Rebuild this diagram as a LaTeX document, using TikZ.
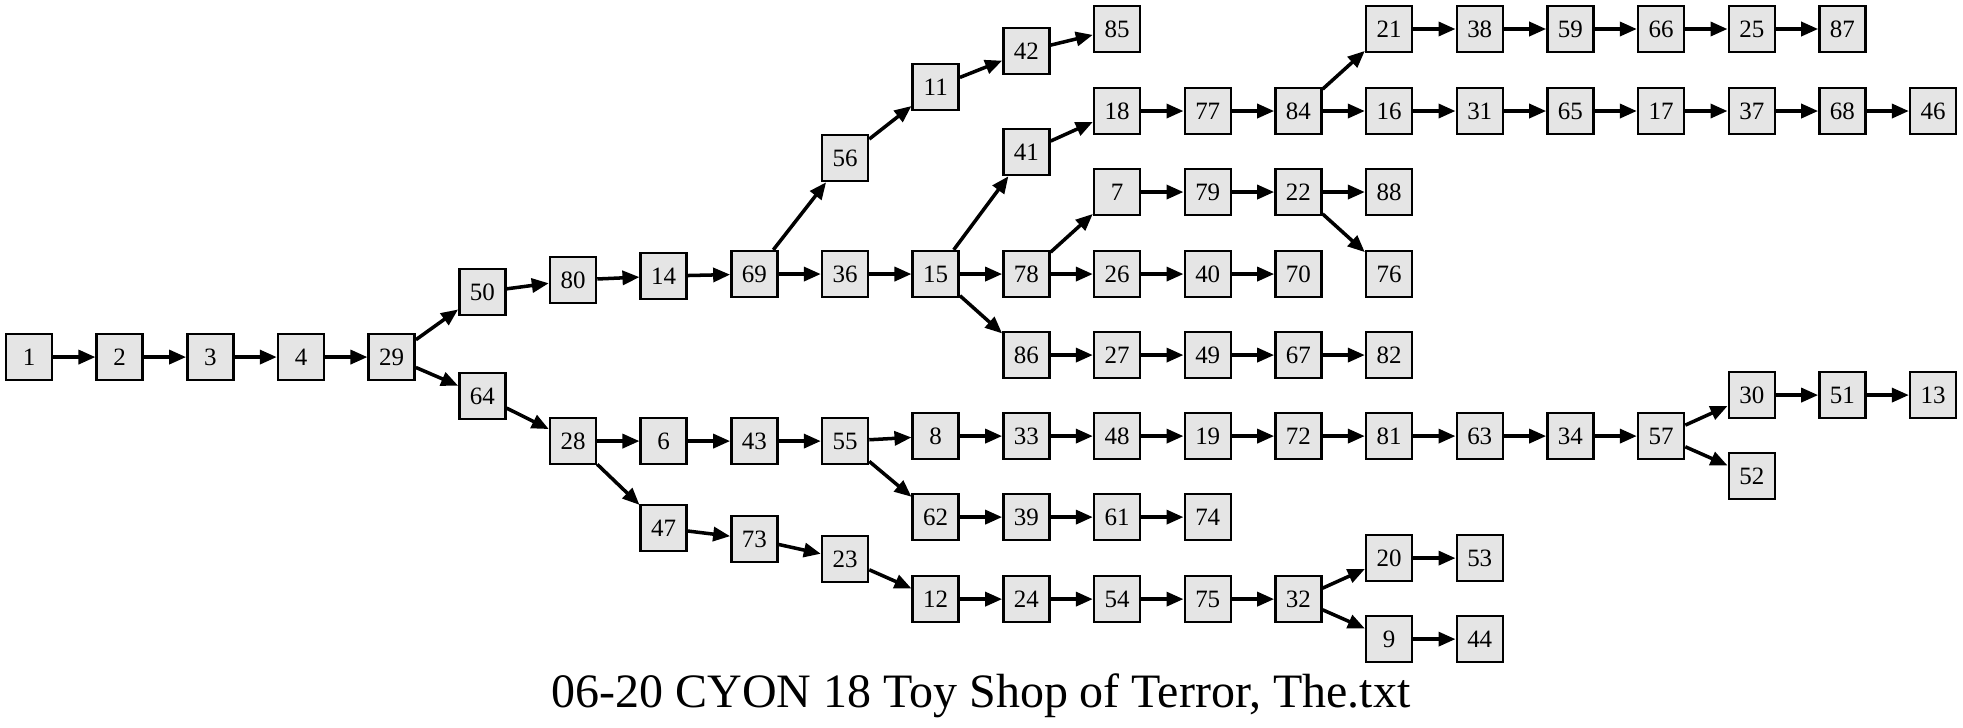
\documentclass[tikz,border=0pt]{standalone}
\usepackage{fontspec}
\setmainfont{Liberation Serif}
\usetikzlibrary{arrows.meta}

\tikzset{
  box/.style={draw, line width=1.4pt, fill=black!10, minimum width=0.92cm,
    minimum height=0.92cm, inner sep=0pt, font=\fontsize{14.2}{14}\selectfont},
  link/.style={line width=2pt, -{Triangle[length=0.34cm,width=0.28cm]}}
}

\begin{document}
\begin{tikzpicture}[x=1.8134cm, y=-0.02cm]
  \useasboundingbox (-0.32,0) rectangle (21.33,727);
  % trunk
  \node[box] (n1)  at (0,357) {1};
  \node[box] (n2)  at (1,357) {2};
  \node[box] (n3)  at (2,357) {3};
  \node[box] (n4)  at (3,357) {4};
  \node[box] (n29) at (4,357) {29};
  % upper half
  \node[box] (n50) at (5,292) {50};
  \node[box] (n80) at (6,280) {80};
  \node[box] (n14) at (7,276) {14};
  \node[box] (n69) at (8,274) {69};
  \node[box] (n56) at (9,158) {56};
  \node[box] (n36) at (9,274) {36};
  \node[box] (n11) at (10,87) {11};
  \node[box] (n15) at (10,274) {15};
  \node[box] (n42) at (11,51) {42};
  \node[box] (n41) at (11,152) {41};
  \node[box] (n78) at (11,274) {78};
  \node[box] (n86) at (11,355) {86};
  \node[box] (n85) at (12,29) {85};
  \node[box] (n18) at (12,111) {18};
  \node[box] (n7)  at (12,192) {7};
  \node[box] (n26) at (12,274) {26};
  \node[box] (n27) at (12,355) {27};
  \node[box] (n77) at (13,111) {77};
  \node[box] (n79) at (13,192) {79};
  \node[box] (n40) at (13,274) {40};
  \node[box] (n49) at (13,355) {49};
  \node[box] (n84) at (14,111) {84};
  \node[box] (n22) at (14,192) {22};
  \node[box] (n70) at (14,274) {70};
  \node[box] (n67) at (14,355) {67};
  \node[box] (n21) at (15,29) {21};
  \node[box] (n16) at (15,111) {16};
  \node[box] (n88) at (15,192) {88};
  \node[box] (n76) at (15,274) {76};
  \node[box] (n82) at (15,355) {82};
  \node[box] (n38) at (16,29) {38};
  \node[box] (n31) at (16,111) {31};
  \node[box] (n59) at (17,29) {59};
  \node[box] (n65) at (17,111) {65};
  \node[box] (n66) at (18,29) {66};
  \node[box] (n17) at (18,111) {17};
  \node[box] (n25) at (19,29) {25};
  \node[box] (n37) at (19,111) {37};
  \node[box] (n87) at (20,29) {87};
  \node[box] (n68) at (20,111) {68};
  \node[box] (n46) at (21,111) {46};
  % lower half
  \node[box] (n64) at (5,396) {64};
  \node[box] (n28) at (6,441) {28};
  \node[box] (n6)  at (7,441) {6};
  \node[box] (n47) at (7,528) {47};
  \node[box] (n43) at (8,441) {43};
  \node[box] (n73) at (8,539) {73};
  \node[box] (n55) at (9,441) {55};
  \node[box] (n23) at (9,559) {23};
  \node[box] (n8)  at (10,436) {8};
  \node[box] (n62) at (10,517) {62};
  \node[box] (n12) at (10,599) {12};
  \node[box] (n33) at (11,436) {33};
  \node[box] (n39) at (11,517) {39};
  \node[box] (n24) at (11,599) {24};
  \node[box] (n48) at (12,436) {48};
  \node[box] (n61) at (12,517) {61};
  \node[box] (n54) at (12,599) {54};
  \node[box] (n19) at (13,436) {19};
  \node[box] (n74) at (13,517) {74};
  \node[box] (n75) at (13,599) {75};
  \node[box] (n72) at (14,436) {72};
  \node[box] (n32) at (14,599) {32};
  \node[box] (n81) at (15,436) {81};
  \node[box] (n20) at (15,558) {20};
  \node[box] (n9)  at (15,639) {9};
  \node[box] (n63) at (16,436) {63};
  \node[box] (n53) at (16,558) {53};
  \node[box] (n44) at (16,639) {44};
  \node[box] (n34) at (17,436) {34};
  \node[box] (n57) at (18,436) {57};
  \node[box] (n30) at (19,395) {30};
  \node[box] (n52) at (19,476) {52};
  \node[box] (n51) at (20,395) {51};
  \node[box] (n13) at (21,395) {13};
  % links
  \draw[link] (n1) -- (n2);   \draw[link] (n2) -- (n3);   \draw[link] (n3) -- (n4);
  \draw[link] (n4) -- (n29);  \draw[link] (n29) -- (n50); \draw[link] (n29) -- (n64);
  \draw[link] (n50) -- (n80); \draw[link] (n80) -- (n14); \draw[link] (n14) -- (n69);
  \draw[link] (n69) -- (n56); \draw[link] (n69) -- (n36);
  \draw[link] (n56) -- (n11); \draw[link] (n11) -- (n42); \draw[link] (n42) -- (n85);
  \draw[link] (n36) -- (n15);
  \draw[link] (n15) -- (n41); \draw[link] (n15) -- (n78); \draw[link] (n15) -- (n86);
  \draw[link] (n41) -- (n18); \draw[link] (n18) -- (n77); \draw[link] (n77) -- (n84);
  \draw[link] (n84) -- (n21); \draw[link] (n84) -- (n16);
  \draw[link] (n21) -- (n38); \draw[link] (n38) -- (n59); \draw[link] (n59) -- (n66);
  \draw[link] (n66) -- (n25); \draw[link] (n25) -- (n87);
  \draw[link] (n16) -- (n31); \draw[link] (n31) -- (n65); \draw[link] (n65) -- (n17);
  \draw[link] (n17) -- (n37); \draw[link] (n37) -- (n68); \draw[link] (n68) -- (n46);
  \draw[link] (n78) -- (n7);  \draw[link] (n78) -- (n26);
  \draw[link] (n7) -- (n79);  \draw[link] (n79) -- (n22);
  \draw[link] (n22) -- (n88); \draw[link] (n22) -- (n76);
  \draw[link] (n26) -- (n40); \draw[link] (n40) -- (n70);
  \draw[link] (n86) -- (n27); \draw[link] (n27) -- (n49); \draw[link] (n49) -- (n67);
  \draw[link] (n67) -- (n82);
  \draw[link] (n64) -- (n28); \draw[link] (n28) -- (n6);  \draw[link] (n28) -- (n47);
  \draw[link] (n6) -- (n43);  \draw[link] (n43) -- (n55);
  \draw[link] (n55) -- (n8);  \draw[link] (n55) -- (n62);
  \draw[link] (n8) -- (n33);  \draw[link] (n33) -- (n48); \draw[link] (n48) -- (n19);
  \draw[link] (n19) -- (n72); \draw[link] (n72) -- (n81); \draw[link] (n81) -- (n63);
  \draw[link] (n63) -- (n34); \draw[link] (n34) -- (n57);
  \draw[link] (n57) -- (n30); \draw[link] (n57) -- (n52);
  \draw[link] (n30) -- (n51); \draw[link] (n51) -- (n13);
  \draw[link] (n62) -- (n39); \draw[link] (n39) -- (n61); \draw[link] (n61) -- (n74);
  \draw[link] (n47) -- (n73); \draw[link] (n73) -- (n23); \draw[link] (n23) -- (n12);
  \draw[link] (n12) -- (n24); \draw[link] (n24) -- (n54); \draw[link] (n54) -- (n75);
  \draw[link] (n75) -- (n32);
  \draw[link] (n32) -- (n20); \draw[link] (n32) -- (n9);
  \draw[link] (n20) -- (n53); \draw[link] (n9) -- (n44);
  % caption
  \node[anchor=base, font=\fontsize{27.3}{28}\selectfont] (title) at (10.5,707)
    {06-20 CYON 18 Toy Shop of Terror, The.txt};
\end{tikzpicture}
\end{document}
